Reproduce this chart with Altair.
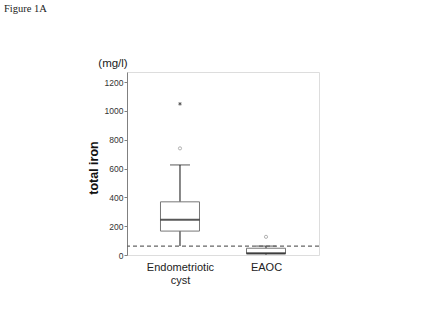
import altair as alt
import pandas as pd

# ---- data ----
categories = ["Endometriotic cyst", "EAOC"]
whisker_low = [62, 2]
q1 = [166, 8]
median = [244, 12]
q3 = [369, 47]
whisker_high = [625, 62]

outlier_cat = ["Endometriotic cyst", "EAOC"]
outlier_val = [740, 126]

extreme_cat = ["Endometriotic cyst"]
extreme_val = [1049]

cutoff = [62]
y_ticks = [0, 200, 400, 600, 800, 1000, 1200]

box_df = pd.DataFrame({
    "group": categories, "lo": whisker_low, "q1": q1,
    "med": median, "q3": q3, "hi": whisker_high,
})
out_df = pd.DataFrame({"group": outlier_cat, "val": outlier_val})
ext_df = pd.DataFrame({"group": extreme_cat, "val": extreme_val})
cut_df = pd.DataFrame({"val": cutoff})
txt_df = pd.DataFrame({"t": ["x"]})

FONT = "Liberation Sans"

x_enc = alt.X(
    "group:N", sort=categories,
    scale=alt.Scale(type="point", padding=0.616),
    axis=alt.Axis(title=None, labelAngle=0, ticks=False, domain=False,
                  labelFontSize=11, labelFont=FONT, labelColor="#222",
                  labelPadding=6, labelLineHeight=13,
                  labelExpr="split(datum.label, ' ')"),
)
y_scale = alt.Scale(domain=[0, 1270], nice=False, zero=True)
y_axis = alt.Axis(values=y_ticks, format="d", labelOverlap=False,
                  grid=False, tickSize=3, tickColor="#808080",
                  domainColor="#808080", labelFontSize=8.5, labelFont=FONT,
                  labelColor="#333", labelPadding=1,
                  title="total iron", titleFont=FONT, titleFontSize=12.5,
                  titleFontWeight="bold", titleColor="#111",
                  titleAngle=270, titleX=-34, titleY=95.5,
                  titleAlign="center", titleBaseline="middle")


def Y(field):
    return alt.Y(field, scale=y_scale, axis=y_axis)


base = alt.Chart(box_df)

whisk = base.mark_rule(color="#111", strokeWidth=1).encode(
    x=x_enc, y=Y("lo:Q"), y2="hi:Q")
caps = base.mark_tick(size=20, thickness=1, color="#111").encode(
    x=x_enc, y=Y("hi:Q"))
box = base.mark_bar(size=39, fill="white", stroke="#777", strokeWidth=1).encode(
    x=x_enc, y=Y("q1:Q"), y2="q3:Q")
med = base.mark_tick(size=39, thickness=2, color="#111").encode(
    x=x_enc, y=Y("med:Q"))

cut = alt.Chart(cut_df).mark_rule(color="#666", strokeWidth=1.3,
                                  strokeDash=[4, 3]).encode(y=Y("val:Q"))

outs = alt.Chart(out_df).mark_point(shape="circle", size=10, filled=False,
                                    stroke="#777", strokeWidth=0.8).encode(
    x=x_enc, y=Y("val:Q"))

star_path = "M0,-1L0,1M-0.87,-0.5L0.87,0.5M-0.87,0.5L0.87,-0.5"
ext = alt.Chart(ext_df).mark_point(shape=star_path, size=12, filled=False,
                                   stroke="#111", strokeWidth=1).encode(
    x=x_enc, y=Y("val:Q"))

unit = alt.Chart(txt_df).mark_text(text="(mg/l)", font=FONT, fontSize=11.5,
                                   color="#222", align="center",
                                   baseline="middle").encode(
    x=alt.value(-14), y=alt.value(-8))

fig = alt.Chart(txt_df).mark_text(text="Figure 1A", font="Liberation Serif",
                                  fontSize=10.5, color="#222", align="left",
                                  baseline="alphabetic").encode(
    x=alt.value(-123), y=alt.value(-60))

chart = alt.layer(whisk, box, med, caps, cut, outs, ext, unit, fig).properties(
    width=192, height=183,
    autosize=alt.AutoSizeParams(type="none"),
    padding={"left": 127, "top": 72, "right": 106, "bottom": 64},
).configure_view(stroke="#808080", strokeWidth=1).configure(background="white")

chart.save("out.html", embed_options={"renderer": "svg", "actions": False})
